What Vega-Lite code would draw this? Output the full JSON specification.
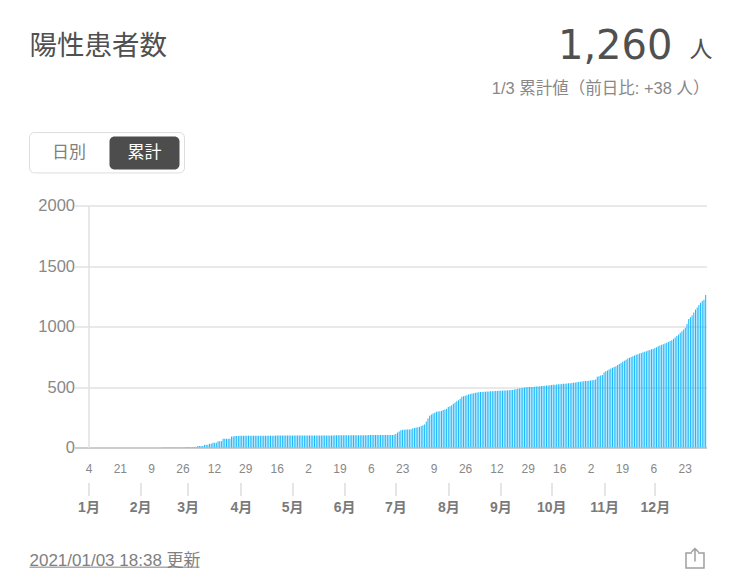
{"$schema":"https://vega.github.io/schema/vega-lite/v6.json","width":618,"height":242,"autosize":{"type":"none"},"padding":{"left":88.5,"top":205.5,"right":33.5,"bottom":137.5},"background":"white","config":{"view":{"stroke":null},"font":"Liberation Sans, Noto Sans CJK JP","text":{"font":"Liberation Sans, Noto Sans CJK JP"}},"datasets":{"cumulative":[{"day":0,"total":0},{"day":1,"total":0},{"day":2,"total":0},{"day":3,"total":0},{"day":4,"total":0},{"day":5,"total":0},{"day":6,"total":0},{"day":7,"total":0},{"day":8,"total":0},{"day":9,"total":0},{"day":10,"total":0},{"day":11,"total":0},{"day":12,"total":0},{"day":13,"total":0},{"day":14,"total":0},{"day":15,"total":0},{"day":16,"total":0},{"day":17,"total":0},{"day":18,"total":0},{"day":19,"total":0},{"day":20,"total":0},{"day":21,"total":0},{"day":22,"total":0},{"day":23,"total":0},{"day":24,"total":0},{"day":25,"total":0},{"day":26,"total":0},{"day":27,"total":1},{"day":28,"total":1},{"day":29,"total":1},{"day":30,"total":1},{"day":31,"total":1},{"day":32,"total":1},{"day":33,"total":1},{"day":34,"total":1},{"day":35,"total":1},{"day":36,"total":1},{"day":37,"total":1},{"day":38,"total":1},{"day":39,"total":1},{"day":40,"total":1},{"day":41,"total":1},{"day":42,"total":1},{"day":43,"total":2},{"day":44,"total":2},{"day":45,"total":2},{"day":46,"total":2},{"day":47,"total":2},{"day":48,"total":2},{"day":49,"total":2},{"day":50,"total":3},{"day":51,"total":3},{"day":52,"total":3},{"day":53,"total":3},{"day":54,"total":3},{"day":55,"total":3},{"day":56,"total":3},{"day":57,"total":4},{"day":58,"total":4},{"day":59,"total":4},{"day":60,"total":5},{"day":61,"total":5},{"day":62,"total":5},{"day":63,"total":5},{"day":64,"total":12},{"day":65,"total":12},{"day":66,"total":12},{"day":67,"total":12},{"day":68,"total":22},{"day":69,"total":22},{"day":70,"total":22},{"day":71,"total":30},{"day":72,"total":30},{"day":73,"total":40},{"day":74,"total":40},{"day":75,"total":40},{"day":76,"total":52},{"day":77,"total":52},{"day":78,"total":52},{"day":79,"total":72},{"day":80,"total":72},{"day":81,"total":72},{"day":82,"total":72},{"day":83,"total":72},{"day":84,"total":90},{"day":85,"total":90},{"day":86,"total":96},{"day":87,"total":96},{"day":88,"total":96},{"day":89,"total":97},{"day":90,"total":97},{"day":91,"total":97},{"day":92,"total":97},{"day":93,"total":97},{"day":94,"total":98},{"day":95,"total":98},{"day":96,"total":98},{"day":97,"total":98},{"day":98,"total":98},{"day":99,"total":98},{"day":100,"total":98},{"day":101,"total":98},{"day":102,"total":98},{"day":103,"total":98},{"day":104,"total":98},{"day":105,"total":98},{"day":106,"total":98},{"day":107,"total":98},{"day":108,"total":98},{"day":109,"total":98},{"day":110,"total":99},{"day":111,"total":99},{"day":112,"total":99},{"day":113,"total":99},{"day":114,"total":99},{"day":115,"total":99},{"day":116,"total":99},{"day":117,"total":99},{"day":118,"total":99},{"day":119,"total":99},{"day":120,"total":99},{"day":121,"total":99},{"day":122,"total":99},{"day":123,"total":99},{"day":124,"total":99},{"day":125,"total":99},{"day":126,"total":99},{"day":127,"total":99},{"day":128,"total":99},{"day":129,"total":99},{"day":130,"total":100},{"day":131,"total":100},{"day":132,"total":100},{"day":133,"total":100},{"day":134,"total":100},{"day":135,"total":100},{"day":136,"total":100},{"day":137,"total":100},{"day":138,"total":100},{"day":139,"total":100},{"day":140,"total":100},{"day":141,"total":100},{"day":142,"total":100},{"day":143,"total":100},{"day":144,"total":100},{"day":145,"total":101},{"day":146,"total":101},{"day":147,"total":101},{"day":148,"total":101},{"day":149,"total":101},{"day":150,"total":101},{"day":151,"total":102},{"day":152,"total":102},{"day":153,"total":102},{"day":154,"total":102},{"day":155,"total":102},{"day":156,"total":102},{"day":157,"total":102},{"day":158,"total":102},{"day":159,"total":102},{"day":160,"total":102},{"day":161,"total":102},{"day":162,"total":102},{"day":163,"total":102},{"day":164,"total":102},{"day":165,"total":103},{"day":166,"total":103},{"day":167,"total":103},{"day":168,"total":103},{"day":169,"total":103},{"day":170,"total":103},{"day":171,"total":103},{"day":172,"total":103},{"day":173,"total":103},{"day":174,"total":103},{"day":175,"total":104},{"day":176,"total":104},{"day":177,"total":104},{"day":178,"total":104},{"day":179,"total":104},{"day":180,"total":105},{"day":181,"total":112},{"day":182,"total":124},{"day":183,"total":132},{"day":184,"total":143},{"day":185,"total":146},{"day":186,"total":147},{"day":187,"total":148},{"day":188,"total":148},{"day":189,"total":149},{"day":190,"total":150},{"day":191,"total":158},{"day":192,"total":162},{"day":193,"total":165},{"day":194,"total":168},{"day":195,"total":170},{"day":196,"total":178},{"day":197,"total":184},{"day":198,"total":190},{"day":199,"total":215},{"day":200,"total":240},{"day":201,"total":262},{"day":202,"total":272},{"day":203,"total":280},{"day":204,"total":287},{"day":205,"total":296},{"day":206,"total":298},{"day":207,"total":300},{"day":208,"total":302},{"day":209,"total":310},{"day":210,"total":315},{"day":211,"total":320},{"day":212,"total":335},{"day":213,"total":341},{"day":214,"total":350},{"day":215,"total":361},{"day":216,"total":372},{"day":217,"total":383},{"day":218,"total":390},{"day":219,"total":402},{"day":220,"total":419},{"day":221,"total":423},{"day":222,"total":428},{"day":223,"total":432},{"day":224,"total":437},{"day":225,"total":442},{"day":226,"total":446},{"day":227,"total":449},{"day":228,"total":452},{"day":229,"total":455},{"day":230,"total":457},{"day":231,"total":458},{"day":232,"total":459},{"day":233,"total":460},{"day":234,"total":461},{"day":235,"total":462},{"day":236,"total":463},{"day":237,"total":464},{"day":238,"total":465},{"day":239,"total":465},{"day":240,"total":466},{"day":241,"total":467},{"day":242,"total":468},{"day":243,"total":469},{"day":244,"total":470},{"day":245,"total":471},{"day":246,"total":472},{"day":247,"total":473},{"day":248,"total":474},{"day":249,"total":475},{"day":250,"total":476},{"day":251,"total":479},{"day":252,"total":482},{"day":253,"total":485},{"day":254,"total":488},{"day":255,"total":490},{"day":256,"total":493},{"day":257,"total":495},{"day":258,"total":497},{"day":259,"total":498},{"day":260,"total":499},{"day":261,"total":500},{"day":262,"total":501},{"day":263,"total":503},{"day":264,"total":504},{"day":265,"total":505},{"day":266,"total":506},{"day":267,"total":508},{"day":268,"total":509},{"day":269,"total":511},{"day":270,"total":512},{"day":271,"total":513},{"day":272,"total":515},{"day":273,"total":516},{"day":274,"total":518},{"day":275,"total":519},{"day":276,"total":520},{"day":277,"total":522},{"day":278,"total":523},{"day":279,"total":524},{"day":280,"total":526},{"day":281,"total":527},{"day":282,"total":529},{"day":283,"total":531},{"day":284,"total":532},{"day":285,"total":534},{"day":286,"total":536},{"day":287,"total":537},{"day":288,"total":539},{"day":289,"total":541},{"day":290,"total":543},{"day":291,"total":545},{"day":292,"total":547},{"day":293,"total":549},{"day":294,"total":550},{"day":295,"total":552},{"day":296,"total":554},{"day":297,"total":556},{"day":298,"total":558},{"day":299,"total":562},{"day":300,"total":584},{"day":301,"total":589},{"day":302,"total":595},{"day":303,"total":600},{"day":304,"total":620},{"day":305,"total":630},{"day":306,"total":637},{"day":307,"total":645},{"day":308,"total":652},{"day":309,"total":659},{"day":310,"total":665},{"day":311,"total":672},{"day":312,"total":681},{"day":313,"total":690},{"day":314,"total":699},{"day":315,"total":708},{"day":316,"total":717},{"day":317,"total":726},{"day":318,"total":735},{"day":319,"total":742},{"day":320,"total":748},{"day":321,"total":755},{"day":322,"total":760},{"day":323,"total":766},{"day":324,"total":771},{"day":325,"total":777},{"day":326,"total":782},{"day":327,"total":787},{"day":328,"total":791},{"day":329,"total":796},{"day":330,"total":801},{"day":331,"total":806},{"day":332,"total":811},{"day":333,"total":815},{"day":334,"total":822},{"day":335,"total":829},{"day":336,"total":836},{"day":337,"total":843},{"day":338,"total":849},{"day":339,"total":854},{"day":340,"total":860},{"day":341,"total":865},{"day":342,"total":872},{"day":343,"total":880},{"day":344,"total":887},{"day":345,"total":898},{"day":346,"total":910},{"day":347,"total":922},{"day":348,"total":934},{"day":349,"total":948},{"day":350,"total":961},{"day":351,"total":975},{"day":352,"total":989},{"day":353,"total":1020},{"day":354,"total":1063},{"day":355,"total":1077},{"day":356,"total":1091},{"day":357,"total":1115},{"day":358,"total":1140},{"day":359,"total":1158},{"day":360,"total":1177},{"day":361,"total":1196},{"day":362,"total":1210},{"day":363,"total":1222},{"day":364,"total":1260}],"one":[{"note":"chrome"}]},"resolve":{"axis":{"x":"independent","y":"independent"}},"layer":[{"data":{"name":"cumulative"},"mark":{"type":"bar","orient":"vertical","width":1.05,"color":"#20b8fb"},"encoding":{"x":{"field":"day","type":"quantitative","scale":{"domain":[-0.5,364.5],"nice":false,"zero":false,"padding":0},"axis":{"orient":"bottom","values":[-0.5,18,36.5,55,73.6,92.1,110.7,129.2,147.7,166.3,184.8,203.3,221.9,240.4,258.9,277.5,296,314.6,333.1,351.6],"labelExpr":"['4','21','9','26','12','29','16','2','19','6','23','9','26','12','29','16','2','19','6','23'][round((datum.value+0.5)/18.53)]","title":null,"domain":false,"ticks":false,"grid":false,"labelPadding":16,"labelFontSize":12,"labelColor":"#888888","labelFlush":false,"labelBound":false,"labelOverlap":false}},"y":{"field":"total","type":"quantitative","scale":{"domain":[0,2000],"nice":false},"axis":{"orient":"left","values":[0,500,1000,1500,2000],"format":"d","title":null,"grid":true,"gridColor":{"condition":{"test":"datum.value===0","value":"#bcbcbc"},"value":"#e2e2e2"},"gridWidth":1.5,"tickColor":{"condition":{"test":"datum.value===0","value":"#bcbcbc"},"value":"#e2e2e2"},"tickWidth":1.5,"tickSize":14,"domainColor":"#e0e0e0","domainWidth":1.5,"labelPadding":0,"labelFontSize":16.5,"labelColor":"#888888","labelFlush":false,"labelBound":false}}}},{"data":{"name":"one"},"mark":{"type":"rule","opacity":0},"encoding":{"x":{"datum":100,"axis":{"orient":"bottom","offset":35,"values":[-0.5,30,58,89.5,119.8,150.5,180.7,212,242.7,272.8,304,334],"labelExpr":"(indexof([-0.5,30,58,89.5,119.8,150.5,180.7,212,242.7,272.8,304,334],datum.value)+1)+'月'","title":null,"domain":false,"grid":false,"tickSize":13,"tickColor":"#dcdcdc","tickWidth":1.5,"labelPadding":5,"labelFontSize":14,"labelFontWeight":"bold","labelColor":"#7a7a7a","labelFlush":false,"labelBound":false,"labelOverlap":false}}}},{"data":{"name":"one"},"mark":{"type":"text","text":"陽性患者数","align":"left","baseline":"middle","fontSize":27.5,"color":"#505050"},"encoding":{"x":{"datum":-35.35,"axis":null},"y":{"datum":3306,"axis":null}}},{"data":{"name":"one"},"mark":{"type":"text","text":"1,260","align":"right","baseline":"middle","fontSize":40,"font":"DejaVu Sans","color":"#505050"},"encoding":{"x":{"datum":344.4,"axis":null},"y":{"datum":3314,"axis":null}}},{"data":{"name":"one"},"mark":{"type":"text","text":"人","align":"left","baseline":"middle","fontSize":23,"color":"#505050"},"encoding":{"x":{"datum":354.5,"axis":null},"y":{"datum":3289,"axis":null}}},{"data":{"name":"one"},"mark":{"type":"text","text":"1/3 累計値（前日比: +38 人）","align":"right","baseline":"middle","fontSize":16.5,"color":"#888888"},"encoding":{"x":{"datum":366.3,"axis":null},"y":{"datum":2959,"axis":null}}},{"data":{"name":"one"},"mark":{"type":"rect","fill":"white","stroke":"#dddddd","strokeWidth":1,"cornerRadius":5},"encoding":{"x":{"datum":-35.35,"axis":null},"x2":{"datum":56.2},"y":{"datum":2603,"axis":null},"y2":{"datum":2269}}},{"data":{"name":"one"},"mark":{"type":"rect","fill":"#4d4d4d","cornerRadius":5},"encoding":{"x":{"datum":11.9,"axis":null},"x2":{"datum":53.25},"y":{"datum":2570,"axis":null},"y2":{"datum":2298}}},{"data":{"name":"one"},"mark":{"type":"text","text":"日別","align":"center","baseline":"middle","fontSize":17,"color":"#808080"},"encoding":{"x":{"datum":-12,"axis":null},"y":{"datum":2438,"axis":null}}},{"data":{"name":"one"},"mark":{"type":"text","text":"累計","align":"center","baseline":"middle","fontSize":17,"color":"#ffffff"},"encoding":{"x":{"datum":32.6,"axis":null},"y":{"datum":2438,"axis":null}}},{"data":{"name":"one"},"mark":{"type":"text","text":"2021/01/03 18:38 更新","align":"left","baseline":"middle","fontSize":17,"color":"#808080"},"encoding":{"x":{"datum":-35.35,"axis":null},"y":{"datum":-934,"axis":null}}},{"data":{"name":"one"},"mark":{"type":"rule","color":"#808080","strokeWidth":1},"encoding":{"x":{"datum":-35.35,"axis":null},"x2":{"datum":65.06},"y":{"datum":-989,"axis":null}}},{"data":{"name":"one"},"mark":{"type":"point","shape":"M-0.3,-0.55 L-0.9,-0.55 L-0.9,0.95 L0.9,0.95 L0.9,-0.55 L0.3,-0.55 M0,0.3 L0,-1 M-0.35,-0.65 L0,-1 L0.35,-0.65","size":400,"filled":false,"stroke":"#777777","strokeWidth":1.5},"encoding":{"x":{"datum":357.7,"axis":null},"y":{"datum":-917,"axis":null}}}]}
